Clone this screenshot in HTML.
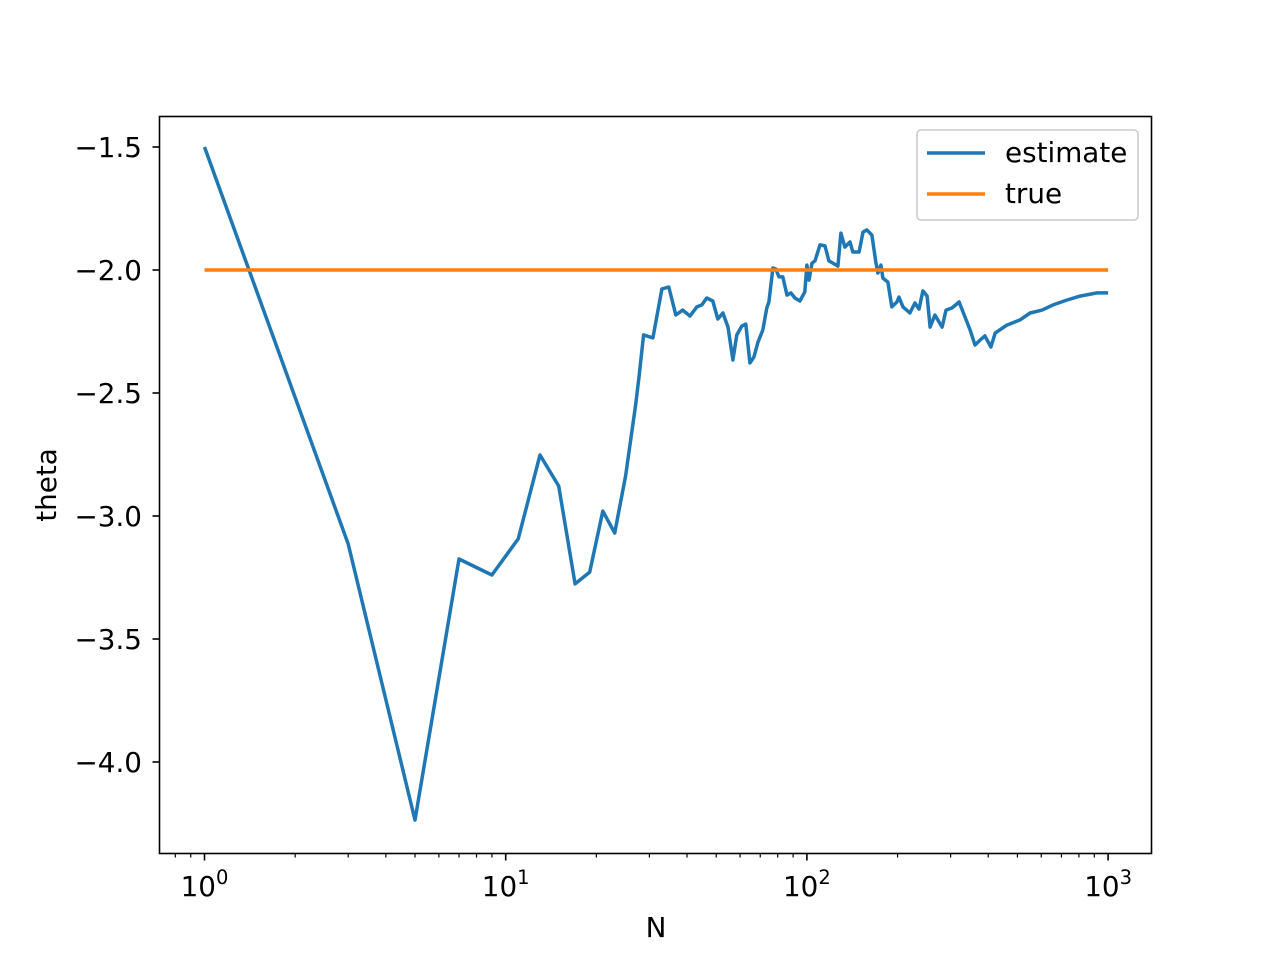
<!DOCTYPE html>
<html><head><meta charset="utf-8"><style>
html,body{margin:0;padding:0;background:#fff;}
svg{display:block;font-family:"DejaVu Sans","Liberation Sans",sans-serif;}
</style></head><body>
<svg id="chart" width="1280" height="960" viewBox="0 0 1280 960">
<rect x="0" y="0" width="1280" height="960" fill="#fff"/>
<g id="grid-layer"></g>
<g id="plot-layer"></g>
<rect x="159.5" y="116.5" width="992" height="737" fill="none" stroke="#000" stroke-width="1.6"/>
<text x="656" y="937" font-size="27.8" text-anchor="middle">N</text>
<text x="0" y="0" font-size="27.8" text-anchor="middle" transform="translate(56,485) rotate(-90)">theta</text>
<g>
<rect x="917" y="130" width="221" height="90" rx="4" fill="#fff" fill-opacity="0.8" stroke="#ccc" stroke-width="1.6"/>
<line x1="927" y1="153" x2="985" y2="153" stroke="#1f77b4" stroke-width="3.5"/>
<text x="1005" y="162" font-size="27.8">estimate</text>
<line x1="927" y1="194" x2="985" y2="194" stroke="#ff7f0e" stroke-width="3.5"/>
<text x="1005" y="203" font-size="27.8">true</text>
</g>
</svg>
<script>
const Ns = [1,3,5,7,9,11,13,15,17,19,21,23,25,27,27.7,28.7,30.8,33.0,34.8,36.7,38.7,40.9,43.1,44.8,46.5,48.7,50.6,52.6,54.7,56.8,58.5,60.8,62.7,64.7,66.7,68.8,71.4,73.6,74.8,77.1,78.9,80.7,83.2,85.9,88.5,91.2,94.8,98.4,100,101.6,104,106.4,110.5,114.8,118.3,122,126.7,129.7,133.7,139,142,149,153.5,158.1,164.3,169.4,172.1,176.1,178.8,185.7,191.4,199,202.1,208.4,219.8,228.4,235.6,242.7,250.6,256.4,266.1,281.2,289.7,303.4,320,335,348.3,361.4,375.8,390,408.3,421.7,461.3,510,550.8,603.9,656.1,730.8,807.5,918.4,1000];
const estimate = [-1.5,-3.114,-4.236,-3.175,-3.240,-3.093,-2.752,-2.878,-3.276,-3.228,-2.980,-3.069,-2.837,-2.549,-2.435,-2.264,-2.276,-2.077,-2.069,-2.183,-2.163,-2.187,-2.150,-2.142,-2.114,-2.126,-2.199,-2.175,-2.232,-2.366,-2.264,-2.228,-2.220,-2.378,-2.354,-2.293,-2.244,-2.154,-2.130,-1.992,-1.996,-2.028,-2.028,-2.102,-2.093,-2.114,-2.126,-2.089,-1.980,-2.041,-1.972,-1.963,-1.898,-1.902,-1.963,-1.972,-1.984,-1.850,-1.907,-1.886,-1.927,-1.927,-1.846,-1.837,-1.858,-1.967,-2.012,-1.980,-2.033,-2.049,-2.150,-2.130,-2.110,-2.150,-2.175,-2.134,-2.159,-2.085,-2.106,-2.232,-2.183,-2.232,-2.163,-2.154,-2.130,-2.191,-2.244,-2.305,-2.285,-2.268,-2.313,-2.256,-2.224,-2.203,-2.175,-2.163,-2.142,-2.122,-2.106,-2.093,-2.093];
const trueValue = -2.0;
const yTicks = [-1.5,-2.0,-2.5,-3.0,-3.5,-4.0];
const yTickLabels = ["\u22121.5","\u22122.0","\u22122.5","\u22123.0","\u22123.5","\u22124.0"];
const xDecades = [0,1,2,3];

const X0 = 204.5, DEC = 301.2;
function xs(n){ return X0 + Math.log10(n)*DEC; }
function ys(v){ return 147 + (-1.5 - v)*246; }
const NS = "http://www.w3.org/2000/svg";
const grid = document.getElementById('grid-layer');
const plot = document.getElementById('plot-layer');
function mk(tag, attrs, parent){ const e=document.createElementNS(NS,tag); for(const k in attrs) e.setAttribute(k,attrs[k]); parent.appendChild(e); return e; }

yTicks.forEach((v,i)=>{
  const y = ys(v);
  const t = mk('line',{x1:159.5,x2:152.5,y1:y,y2:y,stroke:'#000','stroke-width':1.6},grid);
  
  
  const l = mk('text',{x:142,y:y+10,'font-size':27.8,'text-anchor':'end'},grid);
  l.textContent = yTickLabels[i];
  
  
});
xDecades.forEach(d=>{
  const x = xs(Math.pow(10,d));
  const t = mk('line',{x1:x,x2:x,y1:853.5,y2:860.5,stroke:'#000','stroke-width':1.6},grid);
  
  
  const l = mk('text',{x:x,y:896,'font-size':27.8,'text-anchor':'middle'},grid);
  l.textContent = '10';
  const s = mk('tspan',{dy:-12,'font-size':19.5},l);
  s.textContent = String(d);
  
  
});
for(let d=-1; d<=3; d++){
  for(let m=2;m<=9;m++){
    const n = m*Math.pow(10,d);
    const x = xs(n);
    if(x<160||x>1151) continue;
    const t = mk('line',{x1:x,x2:x,y1:853.5,y2:857.5,stroke:'#000','stroke-width':1.2},grid);
    
    
  }
}
const est = mk('polyline',{points:Ns.map((n,i)=>xs(n).toFixed(1)+','+ys(estimate[i]).toFixed(1)).join(' '),fill:'none',stroke:'#1f77b4','stroke-width':3.5,'stroke-linejoin':'round'},plot);


const tr = mk('line',{x1:xs(Ns[0]),x2:xs(Ns[Ns.length-1]),y1:ys(trueValue),y2:ys(trueValue),stroke:'#ff7f0e','stroke-width':3.5},plot);


</script>
</body></html>
